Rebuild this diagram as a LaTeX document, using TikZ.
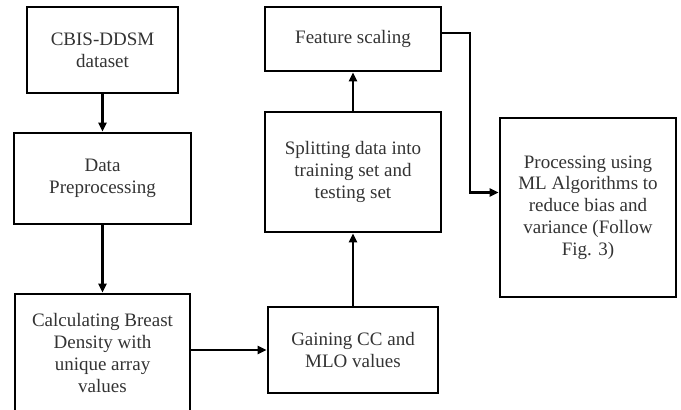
\documentclass[tikz,border=0pt]{standalone}
\usepackage{fontspec}
\setmainfont{Liberation Serif}
\usepackage{tikz}
\usetikzlibrary{arrows.meta}

\tikzset{
	stagebox/.style={draw=black,line width=2.8pt,inner sep=0pt,align=center,
		text=black!80,font=\fontsize{19}{21.8}\selectfont},
	flow/.style={line width=2.4pt,-{Triangle[length=9pt,width=8pt]}}
}

\begin{document}
\begin{tikzpicture}[x=1pt,y=-1pt]
			\useasboundingbox (0,0) rectangle (681,410);
			
			% left column
			
			\node[stagebox,minimum width=151pt,minimum height=86pt] (cbis) at (102.5,50) {CBIS-DDSM\\dataset};
			\node[stagebox,minimum width=177pt,minimum height=91pt] (prep) at (102.5,178.5) {Data\\Preprocessing};
			\node[stagebox,minimum width=175pt,minimum height=118pt] (calc) at (102.5,353) {Calculating Breast\\Density with\\unique array\\values};
			
			% middle column
			
			\node[stagebox,minimum width=170pt,minimum height=86pt] (gain) at (353,350) {Gaining CC and\\MLO values};
			\node[stagebox,minimum width=176pt,minimum height=120pt] (split) at (353,172) {Splitting data into\\training set and\\testing set};
			\node[stagebox,minimum width=176pt,minimum height=64pt] (feat) at (353,39) {Feature scaling};
			
			% right column
			
			\node[stagebox,minimum width=176pt,minimum height=179pt] (proc) at (588,207.5) {Processing using\\ML Algorithms to\\reduce bias and\\variance (Follow\\Fig. 3)};
			\coordinate (bend) at (470,33);
			
			\draw[flow] (cbis) -- (prep);
			\draw[flow] (prep) -- (calc);
			\draw[flow] (calc.east |- gain.west) -- (gain.west);
			\draw[flow] (gain) -- (split);
			\draw[flow] (split) -- (feat);
			\draw[flow] (feat.east |- bend) -- (bend) |- ([yshift=15pt]proc.west);
		\end{tikzpicture}
\end{document}
